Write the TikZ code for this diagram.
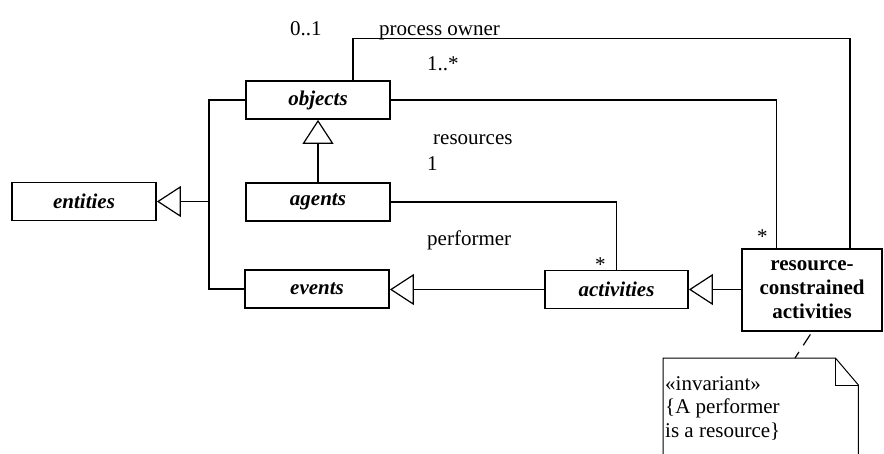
\documentclass[tikz,border=0pt]{standalone}
\usepackage{fontspec}
\setmainfont{Liberation Serif}
\usetikzlibrary{arrows.meta,calc}
\begin{document}
\begin{tikzpicture}[x=1pt,y=-1pt,
  every node/.style={font=\fontsize{21}{24}\selectfont, inner sep=0pt},
  cls/.style={draw, line width=1.8pt, minimum width=144pt, minimum height=38pt, font=\fontsize{21}{24}\selectfont\bfseries\itshape},
  conn/.style={line width=1.2pt},
  gen/.style={conn, -{Triangle[open, length=24pt, width=31pt, line width=1.2pt]}},
  lbl/.style={anchor=base west}]
\useasboundingbox (0,0) rectangle (884,453);
\clip (0,0) rectangle (884,453);
% classes
\node[cls] (entities) at (84,201.5) {entities};
\node[cls] (objects) at (318,100) {objects};
\node[cls] (agents) at (318,202) {agents};
\node[cls] (events) at (317,289) {events};
\node[cls, minimum width=143pt] (activities) at (616.5,289.5) {activities};
\node[cls, minimum width=140pt, minimum height=82pt, align=center, font=\fontsize{21}{24}\selectfont\bfseries] (rescon) at (812,290) {resource-\\constrained\\activities};
% generalizations
\coordinate (J) at (209,201.5);
\draw[conn] (objects.west) -| (J) |- (events.west);
\draw[gen] (J) -- (entities.east);
\draw[gen] (agents.north) -- (objects.south);
\draw[gen] (activities.west) -- (events.east |- activities.west);
\draw[gen] (rescon.west |- activities.east) -- (activities.east);
% associations
\draw[conn] (agents.east) -| (activities.north);
\draw[conn] (objects.east) -| ($(rescon.north west)+(35,0)$);
\draw[conn] ($(objects.north)+(35,0)$) -- ++(0,-42) -| ($(rescon.north east)+(-33,0)$);
% labels
\node[lbl] (l01) at (290,35) {0..1};
\node[lbl] (lpo) at (379,35) {process owner};
\node[lbl] (l1s) at (427,70) {1..*};
\node[lbl] (lres) at (433,144) {resources};
\node[lbl] (l1) at (427,170) {1};
\node[lbl] (lperf) at (427,245) {performer};
\node[lbl] (ls1) at (595,271) {*};
\node[lbl] (ls2) at (757,243) {*};
% note
\node[minimum width=195pt, minimum height=100pt, anchor=north west] (note) at (663,358) {};
\draw[line width=1pt] (note.south west) -- (note.north west) -- ($(note.north east)+(-23,0)$) -- ($(note.north east)+(0,27)$) -- (note.south east);
\draw[line width=1pt] ($(note.north east)+(-23,0)$) -- ($(note.north east)+(-23,27)$) -- ($(note.north east)+(0,27)$);
\coordinate (nt) at (795,358);
\draw[line width=1.2pt, dash pattern=on 13pt off 8pt, dash phase=-3pt] (rescon.south) -- (nt);
\node[lbl] (n1) at (665,390) {«invariant»};
\node[lbl] (n2) at (665,413.5) {\{A performer};
\node[lbl] (n3) at (665,437) {is a resource\}};
\end{tikzpicture}
\end{document}
